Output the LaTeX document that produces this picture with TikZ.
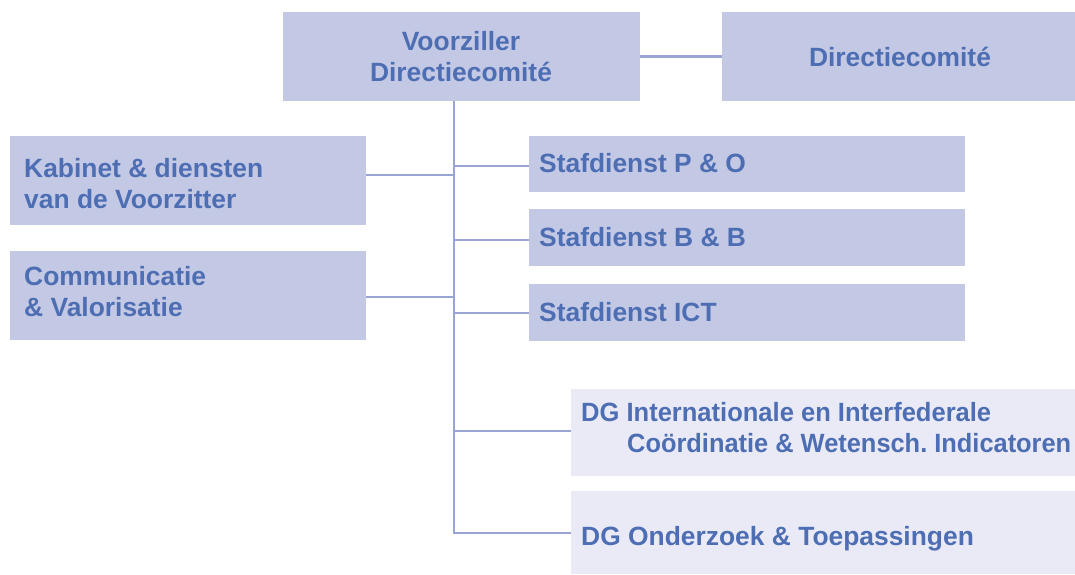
\documentclass[tikz,border=0pt]{standalone}
\usepackage{fontspec}
\setmainfont{Liberation Sans}
\frenchspacing
\definecolor{boxfill}{RGB}{195,200,228}
\definecolor{lightfill}{RGB}{233,234,245}
\definecolor{txtblue}{RGB}{78,110,180}
\definecolor{linecol}{RGB}{154,165,211}
\begin{document}
\begin{tikzpicture}[x=1pt,y=-1pt,
  box/.style={fill=boxfill,draw=none,inner sep=0pt,anchor=north west},
  lbox/.style={fill=lightfill,draw=none,inner sep=0pt,anchor=north west},
  lbl/.style={inner sep=0pt,text=txtblue,font=\fontsize{26.4}{31}\selectfont\bfseries},
  conn/.style={draw=linecol,line width=2.9pt}]
\useasboundingbox[fill=white] (0,0) rectangle (1075,574);
% boxes
\node[box,minimum width=357pt,minimum height=89pt] (top) at (283,12) {};
\node[box,minimum width=353pt,minimum height=89pt] (dc) at (722,12) {};
\node[box,minimum width=356pt,minimum height=89pt] (kab) at (10,136) {};
\node[box,minimum width=356pt,minimum height=89pt] (com) at (10,251) {};
\node[box,minimum width=436pt,minimum height=56pt] (po) at (529,136) {};
\node[box,minimum width=436pt,minimum height=57pt] (bb) at (529,209) {};
\node[box,minimum width=436pt,minimum height=57pt] (ict) at (529,284) {};
\node[lbox,minimum width=504pt,minimum height=87pt] (dgi) at (571,389) {};
\node[lbox,minimum width=504pt,minimum height=83pt] (dgo) at (571,491) {};
% texts
\node[lbl,anchor=base] (t1a) at (461,50) {Voorziller};
\node[lbl,anchor=base] (t1b) at (461,81) {Directiecomité};
\node[lbl,anchor=base] (t2) at (900,66) {Directiecomité};
\node[lbl,anchor=base west] (t3a) at (24,177) {Kabinet \& diensten};
\node[lbl,anchor=base west] (t3b) at (24,208) {van de Voorzitter};
\node[lbl,anchor=base west] (t4a) at (24,285) {Communicatie};
\node[lbl,anchor=base west] (t4b) at (24,316) {\& Valorisatie};
\node[lbl,anchor=base west] (t5) at (539,172) {Stafdienst P \& O};
\node[lbl,anchor=base west] (t6) at (539,246) {Stafdienst B \& B};
\node[lbl,anchor=base west] (t7) at (539,321) {Stafdienst ICT};
\node[lbl,anchor=base west] (t8a) at (581,421) {\scalebox{0.967}[1]{DG Internationale en Interfederale}};
\node[lbl,anchor=base west] (t8b) at (627,452) {\scalebox{0.962}[1]{Coördinatie \& Wetensch. Indicatoren}};
\node[lbl,anchor=base west] (t9) at (581,545) {DG Onderzoek \& Toepassingen};
% trunk coordinates
\coordinate (ttop) at (454,101);
\coordinate (jkab) at (454,175);
\coordinate (jcom) at (454,297);
\coordinate (jpo) at (454,166);
\coordinate (jbb) at (454,240);
\coordinate (jict) at (454,313);
\coordinate (jdgi) at (454,431);
\coordinate (jdgo) at (454,533);
% connectors
\draw[conn] (top.east) -- (dc.west);
\draw[conn] (ttop) -- ([yshift=1.45pt]jdgo);
\draw[conn] (jkab) -- (jkab -| kab.east);
\draw[conn] (jcom) -- (jcom -| com.east);
\draw[conn] (jpo) -- (jpo -| po.west);
\draw[conn] (jbb) -- (jbb -| bb.west);
\draw[conn] (jict) -- (jict -| ict.west);
\draw[conn] (jdgi) -- (jdgi -| dgi.west);
\draw[conn] ([xshift=-1.45pt]jdgo) -- (jdgo -| dgo.west);
\end{tikzpicture}
\end{document}
